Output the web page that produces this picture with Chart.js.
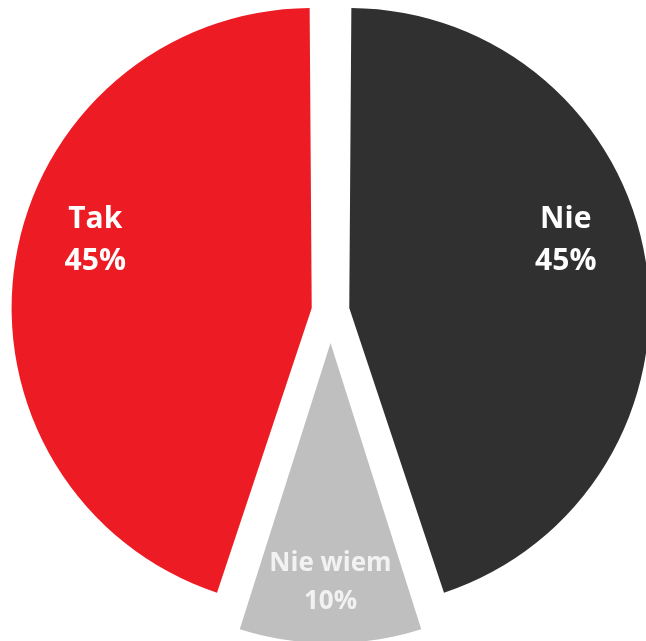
<!DOCTYPE html>
<html>
<head>
<meta charset="utf-8">
<script src="https://cdn.jsdelivr.net/npm/chart.js@4/dist/chart.umd.min.js"></script>
<style>
  html, body { margin: 0; padding: 0; background: #fff; }
  #wrap { width: 646px; height: 641px; }
</style>
</head>
<body>
<div id="wrap"><canvas id="pieChart"></canvas></div>
<script>
const categories = ['Nie', 'Nie wiem', 'Tak'];
const shares = [45, 10, 45];
const sliceColors = ['#303030', '#BFBFBF', '#ED1C24'];
const labelColors = ['#ffffff', '#f2f2f2', '#ffffff'];
const explode = [76, 128, 76];

// where each label sits: fraction of radius, angle shift in degrees
const labelRadius = [0.79, 0.834, 0.79];
const labelShift = [-8.3, 0, 8.3];
const labelSize = [30, 26, 30];
const labelLine = [42, 38, 42];

const sliceLabels = {
    id: 'sliceLabels',
    afterDatasetsDraw(chart) {
        const ctx = chart.ctx;
        const meta = chart.getDatasetMeta(0);
        meta.data.forEach(function(arc, i) {
            const mid = (arc.startAngle + arc.endAngle) / 2;
            const move = (arc.options.offset || 0) / 4;
            const a = mid + labelShift[i] * Math.PI / 180;
            const r = arc.outerRadius * labelRadius[i];
            const x = arc.x + Math.cos(mid) * move + Math.cos(a) * r;
            const y = arc.y + Math.sin(mid) * move + Math.sin(a) * r;
            ctx.save();
            ctx.fillStyle = labelColors[i];
            ctx.font = 'bold ' + labelSize[i] + 'px "Open Sans", sans-serif';
            ctx.textAlign = 'center';
            ctx.textBaseline = 'middle';
            ctx.fillText(categories[i], x, y - labelLine[i] / 2);
            ctx.fillText(shares[i] + '%', x, y + labelLine[i] / 2);
            ctx.restore();
        });
    }
};

const ctx = document.getElementById('pieChart').getContext('2d');
const myChart = new Chart(ctx, {
    type: 'pie',
    data: {
        labels: categories,
        datasets: [
            {
                data: shares,
                backgroundColor: sliceColors,
                borderWidth: 0,
                offset: explode,
                radius: 287,
                clip: false,
            }
        ]
    },
    options: {
        responsive: true,
        maintainAspectRatio: false,
        animation: false,
        layout: {
            padding: { left: 15, right: 0, top: 0, bottom: 19 }
        },
        plugins: {
            legend: { display: false },
            title: { display: false },
            tooltip: { enabled: false }
        }
    },
    plugins: [sliceLabels]
});
</script>
</body>
</html>
